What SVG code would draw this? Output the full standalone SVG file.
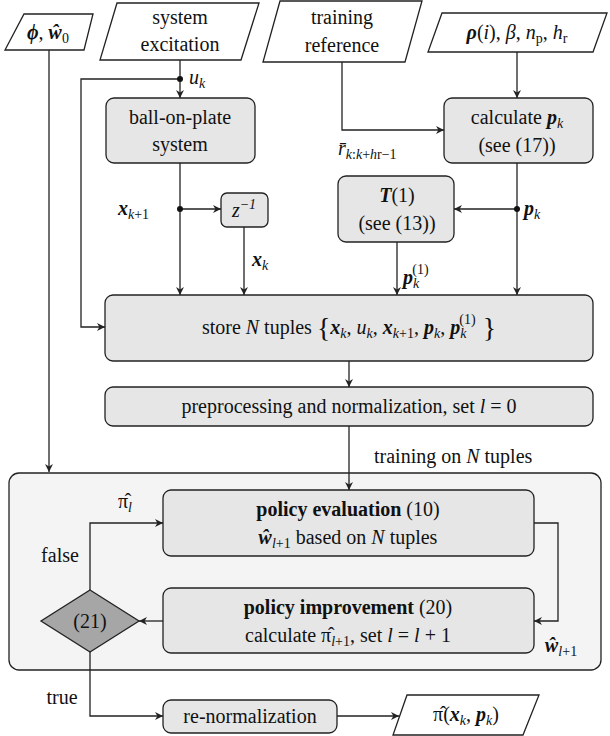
<svg xmlns="http://www.w3.org/2000/svg" width="610" height="736" viewBox="0 0 610 736">
<defs>
<marker id="a" viewBox="0 0 10 10" refX="10" refY="5" markerWidth="8" markerHeight="8" orient="auto" markerUnits="userSpaceOnUse"><path d="M0,0 L10,5 L0,10 L3,5 z" fill="#222"/></marker>
</defs>
<style>
text{font-family:"Liberation Serif","Times New Roman","DejaVu Serif",Times,serif;font-size:20px;fill:#111;text-anchor:middle}
.i{font-style:italic}.b{font-weight:bold;font-style:italic}.bb{font-weight:bold}
.s{font-size:14px}
.l{text-anchor:start}.r{text-anchor:end}
.box{fill:#e6e6e6;stroke:#222;stroke-width:1.3}
.io{fill:#fff;stroke:#222;stroke-width:1.3}
.c{fill:none;stroke:#222;stroke-width:1.3;marker-end:url(#a)}
</style>
<g id="outer"><rect x="9" y="473" width="592" height="197" rx="10" fill="#f4f4f4" stroke="#222" stroke-width="1.3"/></g>
<g id="phi"><polygon class="io" points="24,14 93,14 84,50 5,50"/><text x="48" y="39"><tspan class="b">ϕ</tspan>, <tspan class="b">ŵ</tspan><tspan class="s" dy="4">0</tspan></text></g>
<g id="sysexc"><polygon class="io" points="117,3 259,3 241,60 100,60"/><text x="180" y="24">system</text><text x="180" y="51">excitation</text></g>
<g id="trainref"><polygon class="io" points="280,1 422,1 405,62 263,62"/><text x="342" y="24">training</text><text x="342" y="52">reference</text></g>
<g id="rho"><polygon class="io" points="442,13 607,13 593,52 428,52"/><text x="517" y="39"><tspan class="b">ρ</tspan>(<tspan class="i">i</tspan>), <tspan class="i">β</tspan>, <tspan class="i">n</tspan><tspan class="s" dy="4">p</tspan><tspan dy="-4">, </tspan><tspan class="i">h</tspan><tspan class="s" dy="4">r</tspan></text></g>
<g id="ball"><rect class="box" x="106" y="98" width="149" height="65" rx="8"/><text x="180" y="124">ball-on-plate</text><text x="180" y="151">system</text></g>
<g id="calc"><rect class="box" x="444" y="98" width="149" height="65" rx="8"/><text x="517" y="124">calculate <tspan class="b">p</tspan><tspan class="s i" dy="4">k</tspan></text><text x="517" y="152">(see (17))</text></g>
<g id="z"><rect class="box" x="221" y="193" width="47" height="34" rx="6"/><text x="244" y="217" class="i">z<tspan class="s" dy="-8">−1</tspan></text></g>
<g id="T"><rect class="box" x="338" y="176" width="116" height="66" rx="8"/><text x="397" y="202"><tspan class="b">T</tspan>(1)</text><text x="397" y="230">(see (13))</text></g>
<g id="store"><rect class="box" x="105" y="295" width="488" height="66" rx="8"/><text x="349" y="334">store <tspan class="i">N</tspan> tuples <tspan font-size="28" dy="3">{</tspan><tspan dy="-3" class="b">x</tspan><tspan class="s i" dy="4">k</tspan><tspan dy="-4">, </tspan><tspan class="i">u</tspan><tspan class="s i" dy="4">k</tspan><tspan dy="-4">, </tspan><tspan class="b">x</tspan><tspan class="s" dy="4"><tspan class="i">k</tspan>+1</tspan><tspan dy="-4">, </tspan><tspan class="b">p</tspan><tspan class="s i" dy="4">k</tspan><tspan dy="-4">, </tspan><tspan class="b">p</tspan><tspan class="s i" dy="4">k</tspan><tspan class="s" dx="-7" dy="-14">(1)</tspan><tspan font-size="28" dy="13"> }</tspan></text></g>
<g id="preproc"><rect class="box" x="105" y="387" width="488" height="39" rx="8"/><text x="349" y="413">preprocessing and normalization, set <tspan class="i">l</tspan> = 0</text></g>
<g id="evalbox"><rect class="box" x="163" y="490" width="371" height="66" rx="8"/><text x="348" y="516"><tspan class="bb">policy evaluation</tspan> (10)</text><text x="348" y="544"><tspan class="b">ŵ</tspan><tspan class="s" dy="4"><tspan class="i">l</tspan>+1</tspan><tspan dy="-4"> based on </tspan><tspan class="i">N</tspan> tuples</text></g>
<g id="impbox"><rect class="box" x="163" y="588" width="371" height="65" rx="8"/><text x="348" y="614"><tspan class="bb">policy improvement</tspan> (20)</text><text x="348" y="642">calculate π̂<tspan class="s" dy="4"><tspan class="i">l</tspan>+1</tspan><tspan dy="-4">, set </tspan><tspan class="i">l</tspan> = <tspan class="i">l</tspan> + 1</text></g>
<g id="diamond"><polygon points="90,590 139,621 90,652 41,621" fill="#a6a6a6" stroke="#222" stroke-width="1.3"/><text x="90" y="628">(21)</text></g>
<g id="renorm"><rect class="box" x="163" y="700" width="174" height="33" rx="8"/><text x="250" y="723">re-normalization</text></g>
<g id="out"><polygon class="io" points="407,695 539,695 523,735 393,735"/><text x="466" y="721">π̂(<tspan class="b">x</tspan><tspan class="s i" dy="4">k</tspan><tspan dy="-4">, </tspan><tspan class="b">p</tspan><tspan class="s i" dy="4">k</tspan><tspan dy="-4">)</tspan></text></g>
<g id="connectors">
<path class="c" d="M49,50 V472"/>
<path class="c" d="M180,60 V98"/>
<path class="c" d="M180,79 H81 V327 H105"/>
<path class="c" d="M180,163 V295"/>
<path class="c" d="M180,209 H221"/>
<path class="c" d="M244,227 V295"/>
<path class="c" d="M342,62 V130 H444"/>
<path class="c" d="M517,52 V98"/>
<path class="c" d="M517,163 V295"/>
<path class="c" d="M517,209 H454"/>
<path class="c" d="M397,242 V295"/>
<path class="c" d="M349,361 V387"/>
<path class="c" d="M349,426 V490"/>
<path class="c" d="M90,590 V523 H163"/>
<path class="c" d="M534,523 H558 V621 H534"/>
<path class="c" d="M163,621 H139"/>
<path class="c" d="M90,652 V716 H163"/>
<path class="c" d="M337,716 H399"/>
<circle cx="180" cy="79" r="3" fill="#111"/>
<circle cx="180" cy="209" r="3" fill="#111"/>
<circle cx="517" cy="209" r="3" fill="#111"/>
</g>
<g id="labels">
<text x="189" y="84" class="l"><tspan class="i">u</tspan><tspan class="s i" dy="4">k</tspan></text>
<text x="338" y="155" class="l"><tspan class="i">r̄</tspan><tspan class="s" dy="4"><tspan class="i">k</tspan>:<tspan class="i">k</tspan>+<tspan class="i">h</tspan>r−1</tspan></text>
<text x="118" y="215" class="l"><tspan class="b">x</tspan><tspan class="s" dy="4"><tspan class="i">k</tspan>+1</tspan></text>
<text x="252" y="266" class="l"><tspan class="b">x</tspan><tspan class="s i" dy="4">k</tspan></text>
<text x="524" y="215" class="l"><tspan class="b">p</tspan><tspan class="s i" dy="4">k</tspan></text>
<text x="403" y="284" class="l"><tspan class="b">p</tspan><tspan class="s i" dy="4">k</tspan><tspan class="s" dx="-7" dy="-14">(1)</tspan></text>
<text x="374" y="463" class="l">training on <tspan class="i">N</tspan> tuples</text>
<text x="125" y="508">π̂<tspan class="s i" dy="4">l</tspan></text>
<text x="60" y="562">false</text>
<text x="62" y="704">true</text>
<text x="545" y="652" class="l"><tspan class="b">ŵ</tspan><tspan class="s" dy="4"><tspan class="i">l</tspan>+1</tspan></text>
</g>
</svg>
